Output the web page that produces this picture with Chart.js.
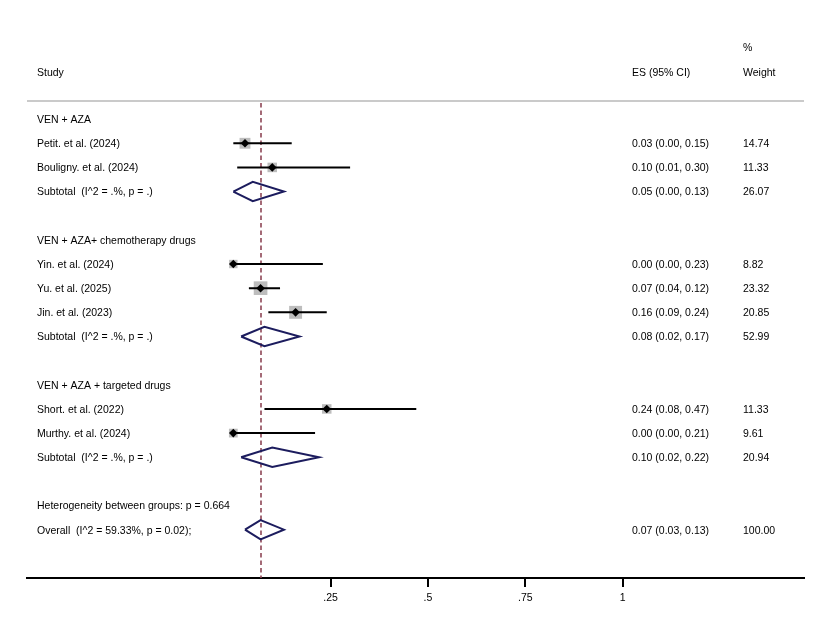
<!DOCTYPE html>
<html>
<head>
<meta charset="utf-8">
<script src="https://cdn.jsdelivr.net/npm/chart.js@4.4.1/dist/chart.umd.min.js"></script>
<style>
  html, body { margin: 0; padding: 0; background: #fff; }
  #wrap { width: 824px; height: 638px; }
</style>
</head>
<body>
<div id="wrap"><canvas id="forest"></canvas></div>
<script>
// rows of the table, top to bottom (blank strings are spacer rows)
const rowLabels = [
  'VEN + AZA',
  'Petit. et al. (2024)',
  'Bouligny. et al. (2024)',
  'Subtotal  (I^2 = .%, p = .)',
  '',
  'VEN + AZA+ chemotherapy drugs',
  'Yin. et al. (2024)',
  'Yu. et al. (2025)',
  'Jin. et al. (2023)',
  'Subtotal  (I^2 = .%, p = .)',
  '',
  'VEN + AZA + targeted drugs',
  'Short. et al. (2022)',
  'Murthy. et al. (2024)',
  'Subtotal  (I^2 = .%, p = .)',
  '',
  'Heterogeneity between groups: p = 0.664',
  'Overall  (I^2 = 59.33%, p = 0.02);'
];

// individual studies
const studyRows = [1, 2, 6, 7, 8, 12, 13];
const studyES = [0.03, 0.10, 0.00, 0.07, 0.16, 0.24, 0.00];
const studyLo = [0.00, 0.01, 0.00, 0.04, 0.09, 0.08, 0.00];
const studyHi = [0.15, 0.30, 0.23, 0.12, 0.24, 0.47, 0.21];
const studyWeight = [14.74, 11.33, 8.82, 23.32, 20.85, 11.33, 9.61];

// pooled estimates (subtotals and overall)
const poolRows = [3, 9, 14, 17];
const poolES = [0.05, 0.08, 0.10, 0.07];
const poolLo = [0.00, 0.02, 0.02, 0.03];
const poolHi = [0.13, 0.17, 0.22, 0.13];
const poolWeight = [26.07, 52.99, 20.94, 100.00];

const overallES = 0.07;

const tickValues = [0.25, 0.5, 0.75, 1];
const tickLabels = ['.25', '.5', '.75', '1'];

const FAMILY = '"Liberation Sans", Arial, sans-serif';
const FONT = '10.5px ' + FAMILY;
const DIAMOND_HALF = 0.4;

function fmt(v) { return v.toFixed(2); }

// CI whiskers: pairs of points separated by gaps
var ciData = [];
studyRows.forEach((r, i) => {
  ciData.push({ x: studyLo[i], y: r }, { x: studyHi[i], y: r }, { x: null, y: null });
});

// pooled diamonds as closed outlines
var diamondData = [];
poolRows.forEach((r, i) => {
  diamondData.push(
    { x: poolLo[i], y: r },
    { x: poolES[i], y: r - DIAMOND_HALF },
    { x: poolHi[i], y: r },
    { x: poolES[i], y: r + DIAMOND_HALF },
    { x: poolLo[i], y: r },
    { x: null, y: null }
  );
});

var boxData = studyRows.map((r, i) => ({ x: studyES[i], y: r }));
var boxRadius = studyWeight.map(w => 2.0 * Math.sqrt(w));

// text columns and header line, the null line at the overall estimate
const tablePlugin = {
  id: 'table',
  beforeDatasetsDraw(chart) {
    const ctx = chart.ctx, area = chart.chartArea;
    const xs = chart.scales.x;
    ctx.save();
    ctx.strokeStyle = '#8e4656';
    ctx.lineWidth = 1.6;
    ctx.setLineDash([4.5, 3]);
    const px = Math.round(xs.getPixelForValue(overallES));
    ctx.beginPath();
    ctx.moveTo(px, area.top + 2);
    ctx.lineTo(px, area.bottom);
    ctx.stroke();
    ctx.restore();
  },
  afterDraw(chart) {
    const ctx = chart.ctx, area = chart.chartArea;
    const ys = chart.scales.y;
    ctx.save();
    // header rule
    ctx.strokeStyle = '#b8b8b8';
    ctx.lineWidth = 1.5;
    ctx.beginPath();
    ctx.moveTo(area.left, area.top);
    ctx.lineTo(area.right, area.top);
    ctx.stroke();

    ctx.fillStyle = '#000';
    ctx.font = FONT;
    ctx.textBaseline = 'middle';
    ctx.textAlign = 'left';
    ctx.fillText('Study', 37, 73);
    ctx.fillText('ES (95% CI)', 632, 73);
    ctx.fillText('%', 743, 48);
    ctx.fillText('Weight', 743, 73);

    rowLabels.forEach((t, r) => {
      if (t) ctx.fillText(t, 37, ys.getPixelForValue(r) + 1);
    });
    studyRows.forEach((r, i) => {
      const y = ys.getPixelForValue(r) + 1;
      ctx.fillText(fmt(studyES[i]) + ' (' + fmt(studyLo[i]) + ', ' + fmt(studyHi[i]) + ')', 632, y);
      ctx.fillText(fmt(studyWeight[i]), 743, y);
    });
    poolRows.forEach((r, i) => {
      const y = ys.getPixelForValue(r) + 1;
      ctx.fillText(fmt(poolES[i]) + ' (' + fmt(poolLo[i]) + ', ' + fmt(poolHi[i]) + ')', 632, y);
      ctx.fillText(fmt(poolWeight[i]), 743, y);
    });
    ctx.restore();
  }
};

var ctx = document.getElementById('forest');

var forestChart = new Chart(ctx, {
  type: 'scatter',
  data: {
    datasets: [{
      label: 'Boxes',
      data: boxData,
      pointStyle: 'rect',
      pointRadius: boxRadius,
      backgroundColor: '#bdbdbd',
      borderWidth: 0,
      order: 3
    }, {
      label: 'CI',
      data: ciData,
      showLine: true,
      spanGaps: false,
      borderColor: '#000',
      borderWidth: 2,
      pointRadius: 0,
      order: 2
    }, {
      label: 'Estimate',
      data: boxData,
      pointStyle: 'rectRot',
      pointRadius: 4.3,
      backgroundColor: '#000',
      borderWidth: 0,
      order: 1
    }, {
      label: 'Pooled',
      data: diamondData,
      showLine: true,
      spanGaps: false,
      borderColor: '#1c1c5e',
      borderWidth: 2,
      borderJoinStyle: 'miter',
      pointRadius: 0,
      order: 0
    }]
  },
  options: {
    responsive: true,
    maintainAspectRatio: false,
    animation: false,
    devicePixelRatio: 1,
    layout: { padding: { left: 27, right: 20, top: 101, bottom: 0 } },
    plugins: {
      legend: { display: false },
      tooltip: { enabled: false }
    },
    scales: {
      x: {
        type: 'linear',
        min: -0.530,
        max: 1.466,
        afterBuildTicks: (scale) => {
          scale.ticks = tickValues.map(v => ({ value: v }));
        },
        afterFit: (scale) => { scale.height = 60; },
        border: { display: true, color: '#000', width: 2 },
        grid: { drawOnChartArea: false, drawTicks: true, tickLength: 9, color: '#000', lineWidth: 2 },
        ticks: {
          color: '#000',
          font: { family: FAMILY, size: 10.5 },
          padding: 5,
          maxRotation: 0,
          autoSkip: false,
          callback: (v) => tickLabels[tickValues.indexOf(v)]
        }
      },
      y: {
        type: 'linear',
        display: false,
        reverse: true,
        min: -0.75,
        max: 19
      }
    }
  },
  plugins: [tablePlugin]
});
</script>
</body>
</html>
